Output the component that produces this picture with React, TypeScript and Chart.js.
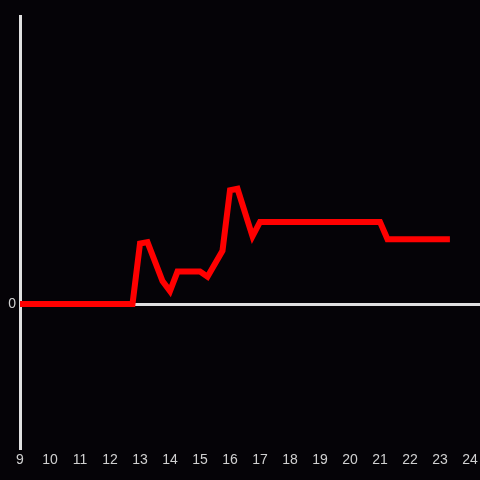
import React, { useEffect, useRef } from "react";
import { Chart, registerables } from "chart.js";

Chart.register(...registerables);

const hours = [9, 12.75, 13, 13.25, 13.75, 14, 14.25, 15, 15.25, 15.75, 16, 16.25, 16.75, 17, 21, 21.25, 23.33];
const values = [0, 0, 0.42, 0.43, 0.16, 0.09, 0.225, 0.225, 0.19, 0.37, 0.79, 0.8, 0.47, 0.57, 0.57, 0.45, 0.45];
const xTicks = [9, 10, 11, 12, 13, 14, 15, 16, 17, 18, 19, 20, 21, 22, 23, 24];
const yTicks = [0];

export default function App() {
  const ref = useRef<HTMLCanvasElement | null>(null);
  useEffect(() => {
    if (!ref.current) return;
    const font = { family: "'Liberation Sans', Arial, sans-serif", size: 14 };
    const chart = new Chart(ref.current, {
      type: "line",
      data: {
        datasets: [
          {
            data: hours.map((h, i) => ({ x: h, y: values[i] })),
            borderColor: "#ff0000",
            borderWidth: 6,
            pointRadius: 0,
            tension: 0,
            fill: false,
          },
        ],
      },
      options: {
        responsive: false,
        animation: false,
        layout: { padding: { top: 16, right: 0, left: 0, bottom: 0 } },
        plugins: { legend: { display: false }, tooltip: { enabled: false } },
        scales: {
          x: {
            type: "linear",
            min: 9,
            max: 9 + 460 / 30,
            afterBuildTicks: (s: any) => {
              s.ticks = xTicks.map((v) => ({ value: v }));
            },
            afterFit: (s: any) => {
              s.height = 32;
            },
            grid: { display: false, drawTicks: false },
            border: { display: false },
            ticks: {
              color: "#d0d0d0",
              font: { ...font, lineHeight: 1.45 },
              padding: 2,
              maxRotation: 0,
              autoSkip: false,
              callback: (v: any) => String(v),
            },
          },
          y: {
            type: "linear",
            min: -1,
            max: 2,
            afterBuildTicks: (s: any) => {
              s.ticks = yTicks.map((v) => ({ value: v }));
            },
            afterFit: (s: any) => {
              s.width = 20;
            },
            grid: { color: "#e0e0e0", lineWidth: 3, drawTicks: false },
            border: { display: true, color: "#e0e0e0", width: 3 },
            ticks: { color: "#d0d0d0", font, padding: 4, callback: (v: any) => String(v) },
          },
        },
      },
    });
    return () => chart.destroy();
  }, []);
  return (
    <div style={{ position: "fixed", left: 0, top: 0, width: 480, height: 480, background: "#050307" }}>
      <canvas ref={ref} width={480} height={480} style={{ display: "block", background: "#050307" }} />
    </div>
  );
}
